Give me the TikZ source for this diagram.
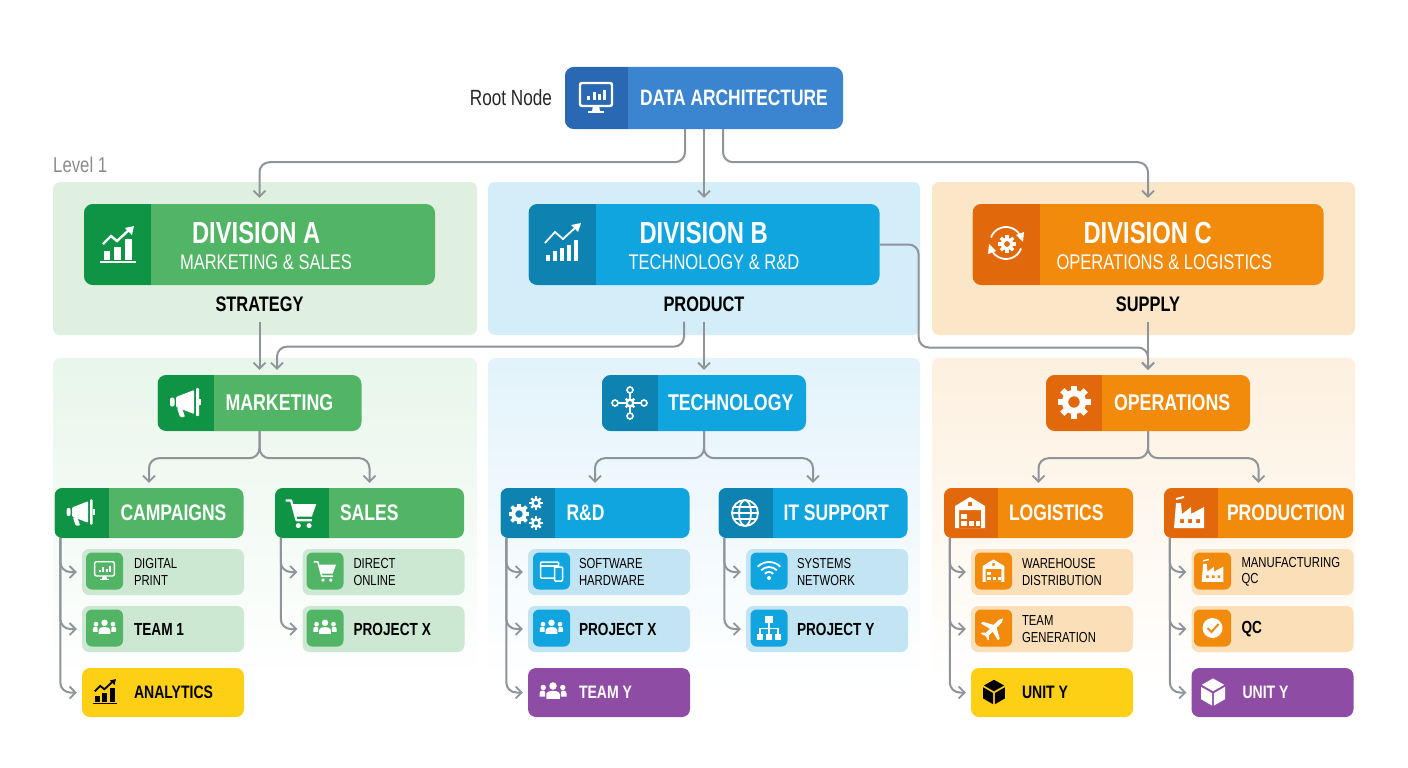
\documentclass[tikz,border=0pt]{standalone}
\usepackage{fontspec}
\setmainfont{Liberation Sans}[FakeStretch=0.78]
\usetikzlibrary{arrows.meta}
\definecolor{rootmain}{HTML}{3A84D0}
\definecolor{rootdark}{HTML}{2A68B4}
\definecolor{grnmain}{HTML}{52B566}
\definecolor{grndark}{HTML}{0F9445}
\definecolor{grnband}{HTML}{DFF0E0}
\definecolor{grnfade}{HTML}{E8F6EB}
\definecolor{grnsub}{HTML}{CDE8D2}
\definecolor{blumain}{HTML}{11A5E0}
\definecolor{bludark}{HTML}{0E82B0}
\definecolor{bluband}{HTML}{D3EEF9}
\definecolor{blufade}{HTML}{E3F3FB}
\definecolor{blusub}{HTML}{C3E4F3}
\definecolor{orgmain}{HTML}{F28B0C}
\definecolor{orgdark}{HTML}{E2680C}
\definecolor{orgband}{HTML}{FCE6C8}
\definecolor{orgfade}{HTML}{FDF0DF}
\definecolor{orgsub}{HTML}{FADFB9}
\definecolor{tagyellow}{HTML}{FDD015}
\definecolor{tagpurple}{HTML}{8E4CA5}
\definecolor{linkgray}{HTML}{8E9499}
\newcommand{\indnt}[1]{\hspace*{#1pt}}
\newcommand{\divtop}{\rule{0pt}{24pt}}
\newcommand{\divsub}{\mdseries\fontsize{21.2}{26}\selectfont}
\newcommand{\cogshape}[3]{%
  \draw[line width={#3*0.42}] (#1,#2) circle ({#3*0.6});
  \foreach \a in {0,45,...,315}
    \fill[shift={(#1,#2)},rotate=\a] ({-#3*0.2},{#3*0.7}) rectangle ({#3*0.2},{#3*1.1});
}
\tikzset{
  every node/.append style={inner sep=0pt},
  sized/.style 2 args={minimum width=#1pt, minimum height=#2pt, text width=#1pt, align=flush left},
  iconbox/.style n args={4}{rectangle, rounded corners=#4pt, fill=#1, text=white,
    path picture={\fill[#2, sharp corners] (path picture bounding box.south west) rectangle ([xshift=#3pt]path picture bounding box.north west);}},
  rootbox/.style={iconbox={rootmain}{rootdark}{63}{9}, sized={278}{62}, font=\bfseries\fontsize{22.3}{26}\selectfont},
  divbox/.style 2 args={iconbox={#1}{#2}{67}{9}, sized={351}{81}, font=\bfseries\fontsize{30.5}{26}\selectfont},
  midbox/.style 2 args={iconbox={#1}{#2}{56}{9}, sized={204}{56}, font=\bfseries\fontsize{22.8}{26}\selectfont},
  treebox/.style 2 args={iconbox={#1}{#2}{54}{8}, sized={189}{50}, font=\bfseries\fontsize{22.5}{26}\selectfont},
  band/.style={rectangle, rounded corners=7pt, fill=#1, minimum height=153pt},
  fadeband/.style={rectangle, rounded corners=7pt, top color=#1, bottom color=white, draw=none, minimum height=325pt},
  subbox/.style={rectangle, rounded corners=7pt, fill=#1, sized={162}{46}, font=\fontsize{14.5}{16.5}\selectfont},
  subbold/.style={subbox=#1, font=\bfseries\fontsize{17.5}{20}\selectfont},
  tagbox/.style 2 args={rectangle, rounded corners=8pt, fill=#1, text=#2, sized={162}{49}, font=\bfseries\fontsize{18}{20}\selectfont},
  chip/.style={rectangle, rounded corners=6pt, fill=#1, minimum width=37pt, minimum height=37pt},
  caption/.style={font=\bfseries\fontsize{21}{26}\selectfont},
  link/.style={draw=linkgray, line width=2pt, rounded corners=10pt,
    -{Straight Barb[length=6pt,width=12pt,line width=1.8pt]}, shorten >=5pt},
  iconlw/.store in=\iconlw, iconlw=2.4,
  pics/monitor/.style={code={
    \draw[line width=\iconlw pt, rounded corners=2pt] (-16,-8) rectangle (16,15);
    \fill (-9,-2) rectangle (-6,2); \fill (-3.5,-2) rectangle (-.5,6);
    \fill (2,-2) rectangle (5,4); \fill (7,-2) rectangle (10,8);
    \fill (-3,-8) -- (3,-8) -- (4,-13) -- (-4,-13) -- cycle;
    \fill (-8,-15) rectangle (8,-13);
  }},
  pics/chartup/.style={code={
    \fill (-14,-15) rectangle (-8,-6); \fill (-4,-15) rectangle (3,-2); \fill (7,-15) rectangle (14,6);
    \fill (-18,-18) rectangle (18,-15.5);
    \draw[line width=\iconlw pt] (-15,1) -- (-7,9) -- (-1,4) -- (12,16);
    \fill (16,19) -- (7,17) -- (14,10) -- cycle;
  }},
  pics/chartbars/.style={code={
    \fill (-17,-18) rectangle (-13,-12); \fill (-10,-18) rectangle (-6,-8);
    \fill (-3,-18) rectangle (1,-5); \fill (4,-18) rectangle (8,-2); \fill (11,-18) rectangle (15,3);
    \draw[line width=\iconlw pt] (-18,0) -- (-8,11) -- (0,4) -- (13,16);
    \fill (18,20) -- (8,18) -- (15,11) -- cycle;
  }},
  pics/cyclecog/.style={code={
    \draw[line width=\iconlw pt] (160:16) arc (160:30:16);
    \draw[line width=\iconlw pt] (-20:16) arc (-20:-150:16);
    \fill (18,11) -- (10,8) -- (17,1) -- cycle;
    \fill (-18,-11) -- (-10,-8) -- (-17,-1) -- cycle;
    \cogshape{1}{-1}{8}
  }},
  pics/megaphone/.style={code={
    \fill[rounded corners=1pt] (-10,-5) -- (-10,5) -- (8,12) -- (8,-12) -- cycle;
    \fill[rounded corners=2pt] (-16,-4.5) rectangle (-11.5,4.5);
    \fill[rounded corners=1pt] (-9,-6) -- (-4,-6) -- (-1,-15) -- (-6,-15) -- cycle;
    \fill[rounded corners=1pt] (10,-14) rectangle (13,14);
    \fill (13,-3) rectangle (15,3);
  }},
  pics/cart/.style={code={
    \draw[line width=\iconlw pt, line join=round] (-17,14) -- (-11,14) -- (-5,-8) -- (12,-8);
    \fill (-9,10) -- (17,10) -- (12,-4) -- (-6,-4) -- cycle;
    \fill (-3,-14) circle (2.8); \fill (9,-14) circle (2.8);
  }},
  pics/people/.style={code={
    \fill (0,8) circle (5); \fill (-13,6) circle (3.6); \fill (13,6) circle (3.6);
    \fill (-9,-9) -- (-9,-3) .. controls (-9,3) and (9,3) .. (9,-3) -- (9,-9) -- cycle;
    \fill (-18,-6) -- (-18,-2) .. controls (-18,3) and (-11,3) .. (-10.5,0) -- (-10.5,-6) -- cycle;
    \fill (18,-6) -- (18,-2) .. controls (18,3) and (11,3) .. (10.5,0) -- (10.5,-6) -- cycle;
  }},
  pics/hub/.style={code={
    \draw[line width=\iconlw pt] (0,13) circle (3); \draw[line width=\iconlw pt] (0,-13) circle (3);
    \draw[line width=\iconlw pt] (-15,0) circle (3); \draw[line width=\iconlw pt] (14,0) circle (3);
    \draw[line width=\iconlw pt] (0,10) -- (0,6); \draw[line width=\iconlw pt] (0,-10) -- (0,-6);
    \draw[line width=\iconlw pt] (-12,0) -- (-6,0); \draw[line width=\iconlw pt] (11,0) -- (6,0);
    \cogshape{0}{0}{5.5}
  }},
  pics/gears/.style={code={
    \cogshape{-8}{-1}{9.5}
    \cogshape{9}{10}{6}
    \cogshape{9}{-10}{6}
  }},
  pics/bigcog/.style={code={\cogshape{0}{0}{15}}},
  pics/globe/.style={code={
    \draw[line width=\iconlw pt] (0,0) circle (13);
    \draw[line width=\iconlw pt] (0,0) ellipse (6 and 13);
    \draw[line width=\iconlw pt] (-13,0) -- (13,0);
    \draw[line width=\iconlw pt] (-11.5,6) -- (11.5,6);
    \draw[line width=\iconlw pt] (-11.5,-6) -- (11.5,-6);
  }},
  pics/device/.style={code={
    \draw[line width=\iconlw pt, rounded corners=1pt] (-11,-7) rectangle (7,9);
    \draw[line width=\iconlw pt] (-11,5) -- (7,5);
    \draw[line width=\iconlw pt, rounded corners=1pt, fill=blumain] (3,-10) rectangle (11,4);
  }},
  pics/wifi/.style={code={
    \draw[line width=\iconlw pt] (0,-7) ++(45:6) arc (45:135:6);
    \draw[line width=\iconlw pt] (0,-7) ++(45:11) arc (45:135:11);
    \draw[line width=\iconlw pt] (0,-7) ++(45:16) arc (45:135:16);
    \fill (0,-7) circle (2);
  }},
  pics/orgtree/.style={code={
    \fill (-4,5) rectangle (4,12);
    \fill (-12,-12) rectangle (-6,-6); \fill (-3,-12) rectangle (3,-6); \fill (6,-12) rectangle (12,-6);
    \draw[line width=\iconlw pt] (0,5) -- (0,-6);
    \draw[line width=\iconlw pt] (-9,-6) -- (-9,-.5) -- (9,-.5) -- (9,-6);
  }},
  pics/warehouse/.style={code={
    \fill[even odd rule] (-15,-15) -- (-15,7) -- (0,16) -- (15,7) -- (15,-15) -- cycle
      (-11,-15) rectangle (11,3) (-2,7) rectangle (2,11);
    \fill (-9,-13) rectangle (-3,-8); \fill (-1,-13) rectangle (4,-8); \fill (6,-13) rectangle (10,-8);
    \fill (-9,-6) rectangle (-3,-1);
  }},
  pics/factory/.style={code={
    \fill[even odd rule] (-15,-15) -- (-13,10) -- (-8,10) -- (-7,-1) -- (2,6) -- (2,-1) -- (15,6) -- (15,-15) -- cycle
      (-9,-10) rectangle (-5,-6) (-1,-10) rectangle (3,-6) (7,-10) rectangle (11,-6);
    \draw[line width=\iconlw pt] (-13,14) -- (-5,16);
  }},
  pics/plane/.style={code={
    \fill[rotate=-45] (0,17) -- (-2.5,12) -- (-2.5,3) -- (-15,-4) -- (-15,-7) -- (-2.5,-4) -- (-2.5,-11)
      -- (-6,-14) -- (-6,-16) -- (0,-14) -- (6,-16) -- (6,-14) -- (2.5,-11) -- (2.5,-4) -- (15,-7)
      -- (15,-4) -- (2.5,3) -- (2.5,12) -- cycle;
  }},
  pics/checkmark/.style={code={
    \fill (0,0) circle (10);
    \draw[orgmain, line width=\iconlw pt] (-5,0) -- (-1,-4) -- (6,4);
  }},
  pics/cube/.style={code={
    \fill (0,17) -- (14,9) -- (0,1) -- (-14,9) -- cycle;
    \fill (-15,6.5) -- (-1.2,-1.5) -- (-1.2,-17) -- (-15,-9) -- cycle;
    \fill (15,6.5) -- (1.2,-1.5) -- (1.2,-17) -- (15,-9) -- cycle;
  }},
}
\begin{document}
\begin{tikzpicture}[x=1pt,y=1pt]
    \useasboundingbox (0,0) rectangle (1408,-768);
    \node (bandA) [band=grnband, minimum width=424pt] at (265,-258.5) {};
    \node (bandB) [band=bluband, minimum width=432pt] at (704,-258.5) {};
    \node (bandC) [band=orgband, minimum width=423pt] at (1143.5,-258.5) {};
    \node (fadeA) [fadeband=grnfade, minimum width=424pt] at (265,-520.5) {};
    \node (fadeB) [fadeband=blufade, minimum width=432pt] at (704,-520.5) {};
    \node (fadeC) [fadeband=orgfade, minimum width=423pt] at (1143.5,-520.5) {};
    \node (rootname) [font=\fontsize{22}{24}\selectfont, text=black!85] at (511,-98) {Root Node};
    \node (levelname) [font=\fontsize{21.5}{22}\selectfont, text=black!45, anchor=west] at (53,-165) {Level 1};

    \node (root) [rootbox] at (704,-98) {\indnt{75}DATA ARCHITECTURE};
    \pic[white] at (596,-98) {monitor};

    \node (divA) [divbox={grnmain}{grndark}] at (259.5,-244.5) {\indnt{108}\divtop DIVISION A\\\indnt{96}{\divsub MARKETING \& SALES}};
    \pic[white] at (118,-245) {chartup};
    \node (divB) [divbox={blumain}{bludark}] at (704,-244.5) {\indnt{111}\divtop DIVISION B\\\indnt{100}{\divsub TECHNOLOGY \& R\&D}};
    \pic[white, iconlw=1.8] at (563,-243) {chartbars};
    \node (divC) [divbox={orgmain}{orgdark}] at (1148,-244.5) {\indnt{111}\divtop DIVISION C\\\indnt{84}{\divsub OPERATIONS \& LOGISTICS}};
    \pic[white, iconlw=1.8] at (1006,-243) {cyclecog};
    \node (strategy) [caption] at (259.5,-304) {STRATEGY};
    \node (product) [caption] at (704,-304) {PRODUCT};
    \node (supply) [caption] at (1148,-304) {SUPPLY};

    \node (marketing) [midbox={grnmain}{grndark}] at (259.5,-403) {\indnt{68}MARKETING};
    \pic[white] at (186,-402) {megaphone};
    \node (technology) [midbox={blumain}{bludark}] at (704,-403) {\indnt{66}TECHNOLOGY};
    \pic[white, iconlw=1.6] at (630,-403) {hub};
    \node (operations) [midbox={orgmain}{orgdark}] at (1148,-403) {\indnt{68}OPERATIONS};
    \pic[white] at (1074,-402) {bigcog};

    \node (campaigns) [treebox={grnmain}{grndark}] at (149,-513) {\indnt{66}CAMPAIGNS};
    \pic[white, scale=.9] at (81,-512) {megaphone};
    \node (sales) [treebox={grnmain}{grndark}] at (369.5,-513) {\indnt{65}SALES};
    \pic[white, scale=.9, iconlw=2.2] at (301,-513) {cart};
    \node (rnd) [treebox={blumain}{bludark}] at (595,-513) {\indnt{66}R\&D};
    \pic[white] at (527,-513) {gears};
    \node (support) [treebox={blumain}{bludark}] at (813,-513) {\indnt{65}IT SUPPORT};
    \pic[white, iconlw=1.8] at (745,-513) {globe};
    \node (logistics) [treebox={orgmain}{orgdark}] at (1038.5,-513) {\indnt{65}LOGISTICS};
    \pic[white] at (970,-513) {warehouse};
    \node (production) [treebox={orgmain}{orgdark}] at (1258.5,-513) {\indnt{63}PRODUCTION};
    \pic[white, iconlw=2] at (1189,-513) {factory};

    \node (digital) [subbox=grnsub] at (163,-572) {\indnt{52}DIGITAL\\\indnt{52}PRINT};
    \node (digitalchip) [chip=grnmain] at (104.5,-571) {};
    \pic[white, scale=.62, iconlw=1.4] at (digitalchip) {monitor};
    \node (team) [subbold=grnsub] at (163,-629) {\indnt{52}TEAM 1};
    \node (teamchip) [chip=grnmain] at (104.5,-628) {};
    \pic[white, scale=.65] at (teamchip) {people};
    \node (analytics) [tagbox={tagyellow}{black}] at (163,-692.5) {\indnt{52}ANALYTICS};
    \pic[black, scale=.68, iconlw=1.8] at (105,-692) {chartup};

    \node (direct) [subbox=grnsub] at (383.5,-572) {\indnt{51}DIRECT\\\indnt{51}ONLINE};
    \node (directchip) [chip=grnmain] at (325,-571) {};
    \pic[white, scale=.65, iconlw=1.5] at (directchip) {cart};
    \node (projectx) [subbold=grnsub] at (383.5,-629) {\indnt{51}PROJECT X};
    \node (projectxchip) [chip=grnmain] at (325,-628) {};
    \pic[white, scale=.65] at (projectxchip) {people};

    \node (software) [subbox=blusub] at (609,-572) {\indnt{51}SOFTWARE\\\indnt{51}HARDWARE};
    \node (softwarechip) [chip=blumain] at (551.5,-571) {};
    \pic[white, iconlw=1.5] at (softwarechip) {device};
    \node (projectb) [subbold=blusub] at (609,-629) {\indnt{51}PROJECT X};
    \node (projectbchip) [chip=blumain] at (551.5,-628) {};
    \pic[white, scale=.65] at (projectbchip) {people};
    \node (teamy) [tagbox={tagpurple}{white}] at (609,-692.5) {\indnt{51}TEAM Y};
    \pic[white, scale=.75] at (553,-692) {people};

    \node (systems) [subbox=blusub] at (827,-572) {\indnt{51}SYSTEMS\\\indnt{51}NETWORK};
    \node (systemschip) [chip=blumain] at (769,-571) {};
    \pic[white, iconlw=1.8] at (systemschip) {wifi};
    \node (projecty) [subbold=blusub] at (827,-629) {\indnt{51}PROJECT Y};
    \node (projectychip) [chip=blumain] at (769,-628) {};
    \pic[white, iconlw=1.3] at (projectychip) {orgtree};

    \node (warehouse) [subbox=orgsub] at (1052,-572) {\indnt{51}WAREHOUSE\\\indnt{51}DISTRIBUTION};
    \node (warehousechip) [chip=orgmain] at (993.5,-571) {};
    \pic[white, scale=.72] at (warehousechip) {warehouse};
    \node (generation) [subbox=orgsub] at (1052,-629) {\indnt{51}TEAM\\\indnt{51}GENERATION};
    \node (generationchip) [chip=orgmain] at (993.5,-628) {};
    \pic[white, scale=.8] at (generationchip) {plane};
    \node (unity) [tagbox={tagyellow}{black}] at (1052,-692.5) {\indnt{51}UNIT Y};
    \pic[black, scale=.72] at (994,-692) {cube};

    \node (manufacturing) [subbox=orgsub] at (1272.5,-572) {\indnt{50}MANUFACTURING\\\indnt{50}QC};
    \node (manufacturingchip) [chip=orgmain] at (1212.5,-571) {};
    \pic[white, scale=.72, iconlw=1.4] at (manufacturingchip) {factory};
    \node (qc) [subbold=orgsub] at (1272.5,-629) {\indnt{50}QC};
    \node (qcchip) [chip=orgmain] at (1212.5,-628) {};
    \pic[white, iconlw=2] at (qcchip) {checkmark};
    \node (unitz) [tagbox={tagpurple}{white}] at (1272.5,-692.5) {\indnt{51}UNIT Y};
    \pic[white, scale=.8] at (1213,-692) {cube};

    \draw [link, shorten >=6pt] ([xshift=-19pt]root.south) -- ++(0,-33) -| (divA.north);
    \draw [link, shorten >=6pt] (root.south) -- (divB.north);
    \draw [link, shorten >=6pt] ([xshift=19pt]root.south) -- ++(0,-33) -| (divC.north);
    \draw [link, shorten <=10pt] (strategy.south) -- (marketing.north);
    \draw [link, shorten <=10pt] ([xshift=-20pt]product.south) -- ++(0,-35) -| ([xshift=17.5pt]marketing.north);
    \draw [link, shorten <=10pt] (product.south) -- (technology.north);
    \draw [link, shorten <=10pt] (supply.south) -- (operations.north);
    \draw [link] (divB.east) -- ++(39,0) -- ++(0,-103) -| (operations.north);

    \draw [link] (marketing.south) -- ++(0,-27) -| (campaigns.north);
    \draw [link] (marketing.south) -- ++(0,-27) -| (sales.north);
    \draw [link] (technology.south) -- ++(0,-27) -| (rnd.north);
    \draw [link] (technology.south) -- ++(0,-27) -| (support.north);
    \draw [link] (operations.south) -- ++(0,-27) -| (logistics.north);
    \draw [link] (operations.south) -- ++(0,-27) -| (production.north);

    \draw [link] ([xshift=6pt]campaigns.south west) |- (digital.west);
    \draw [link] ([xshift=6pt]campaigns.south west) |- (team.west);
    \draw [link] ([xshift=6pt]campaigns.south west) |- (analytics.west);
    \draw [link] ([xshift=6pt]sales.south west) |- (direct.west);
    \draw [link] ([xshift=6pt]sales.south west) |- (projectx.west);
    \draw [link] ([xshift=6pt]rnd.south west) |- (software.west);
    \draw [link] ([xshift=6pt]rnd.south west) |- (projectb.west);
    \draw [link] ([xshift=6pt]rnd.south west) |- (teamy.west);
    \draw [link] ([xshift=6pt]support.south west) |- (systems.west);
    \draw [link] ([xshift=6pt]support.south west) |- (projecty.west);
    \draw [link] ([xshift=6pt]logistics.south west) |- (warehouse.west);
    \draw [link] ([xshift=6pt]logistics.south west) |- (generation.west);
    \draw [link] ([xshift=6pt]logistics.south west) |- (unity.west);
    \draw [link] ([xshift=6pt]production.south west) |- (manufacturing.west);
    \draw [link] ([xshift=6pt]production.south west) |- (qc.west);
    \draw [link] ([xshift=6pt]production.south west) |- (unitz.west);
\end{tikzpicture}
\end{document}
